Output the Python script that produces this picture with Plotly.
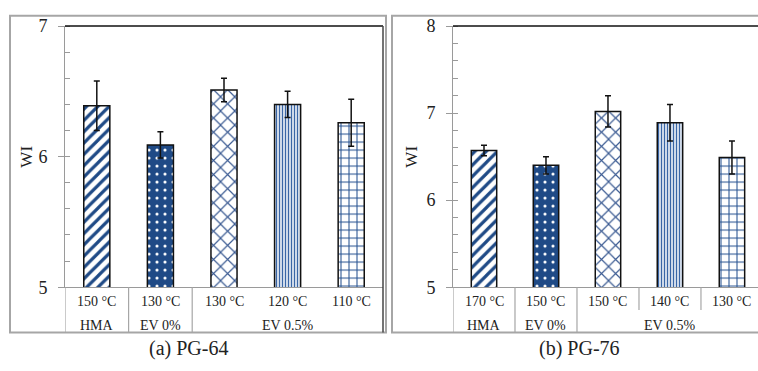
import plotly.graph_objects as go

W, H = 758, 371

# ---- data ----
temps_a = ["150 °C", "130 °C", "130 °C", "120 °C", "110 °C"]
temps_b = ["170 °C", "150 °C", "150 °C", "140 °C", "130 °C"]
groups = ["HMA", "EV 0%", "EV 0.5%"]
group_pos = [0, 1, 3]
wi_a = [6.39, 6.09, 6.51, 6.40, 6.26]
err_a = [0.19, 0.10, 0.09, 0.10, 0.18]
wi_b = [6.57, 6.40, 7.02, 6.89, 6.49]
err_b = [0.06, 0.10, 0.18, 0.21, 0.19]
captions = ["(a) PG-64", "(b) PG-76"]
ytitle = "WI"

NAVY = "#1f4a86"
shapes_pat = ["/", ".", "x", "|", "+"]
fg = [NAVY, "white", "#3a5a92", "#3a66a6", "#24508f"]
bg = ["white", NAVY, "white", "white", "white"]
psize = [8, 8, 10, 3, 8]
psol = [0.4, 0.12, 0.22, 0.5, 0.24]

FONT = "Liberation Serif, Times New Roman, serif"


def px(x):
    return x / W


def py(y):
    return 1 - y / H


xs = list(range(5))
fig = go.Figure()
for i, (vals, errs, temps) in enumerate([(wi_a, err_a, temps_a), (wi_b, err_b, temps_b)]):
    sfx = "" if i == 0 else "2"
    fig.add_trace(go.Bar(
        x=xs, y=vals, width=0.41,
        xaxis="x" + sfx, yaxis="y" + sfx,
        marker=dict(
            color="white",
            line=dict(color="#111", width=1.5),
            pattern=dict(shape=shapes_pat, fgcolor=fg, bgcolor=bg,
                         size=psize, solidity=psol, fillmode="replace"),
        ),
        error_y=dict(type="data", array=errs, color="#111", thickness=1.5, width=3),
        showlegend=False,
    ))

yax_common = dict(
    showgrid=False, zeroline=False, showline=True, linecolor="#9a9a9a", linewidth=1,
    ticks="outside", ticklen=6, tickcolor="#9a9a9a", dtick=1,
    tickfont=dict(family=FONT, size=18, color="#222"),
    minor=dict(dtick=0.2, ticks="inside", ticklen=5, tickcolor="#9a9a9a"),
    ticklabelstandoff=7,
)
xax_common = dict(
    showgrid=False, zeroline=False, showline=True, linecolor="#9a9a9a", linewidth=1,
    showticklabels=False, ticks="",
)

fig.update_layout(
    width=W, height=H, margin=dict(l=0, r=0, t=0, b=0),
    paper_bgcolor="white", plot_bgcolor="white",
    xaxis=dict(domain=[px(65), px(383)], range=[-0.5, 4.5], anchor="y", **xax_common),
    yaxis=dict(domain=[py(293), py(17)], range=[5, 7], anchor="x", **yax_common),
    xaxis2=dict(domain=[px(453), 1.0], range=[-0.5, 4.42], anchor="y2", **xax_common),
    yaxis2=dict(domain=[py(293), py(17)], range=[5, 8], anchor="x2", **yax_common),
)

shapes = []
gray = "#a6a6a6"
# outer panel frames
shapes.append(dict(type="rect", xref="paper", yref="paper", x0=px(10), x1=px(386), y0=py(341), y1=py(6),
                   line=dict(color=gray, width=2), layer="below"))
shapes.append(dict(type="rect", xref="paper", yref="paper", x0=px(392), x1=px(775), y0=py(341), y1=py(6),
                   line=dict(color=gray, width=2), layer="below"))
# plot area top lines
shapes.append(dict(type="line", xref="paper", yref="paper", x0=px(65), x1=px(383), y0=py(17), y1=py(17),
                   line=dict(color="#111", width=1.5)))
shapes.append(dict(type="line", xref="paper", yref="paper", x0=px(453), x1=1.0, y0=py(17), y1=py(17),
                   line=dict(color="#111", width=1.5)))
# right border of panel a plot area
shapes.append(dict(type="line", xref="paper", yref="paper", x0=px(383), x1=px(383), y0=py(17), y1=py(341),
                   line=dict(color="#444", width=1.5)))
# table lines
for i, sfx in enumerate(["", "2"]):
    xr = "x" + sfx
    for b in [-0.5, 0.5, 1.5]:
        shapes.append(dict(type="line", xref=xr, yref="paper", x0=b, x1=b, y0=py(293), y1=py(341),
                           line=dict(color=gray, width=1.2)))
    if i == 1:
        for b in [2.5, 3.5]:
            shapes.append(dict(type="line", xref=xr, yref="paper", x0=b, x1=b, y0=py(293), y1=py(317),
                               line=dict(color=gray, width=1.2)))

annotations = []
for i, (temps, sfx) in enumerate([(temps_a, ""), (temps_b, "2")]):
    xr = "x" + sfx
    for xv, t in zip(xs, temps):
        annotations.append(dict(x=xv, y=py(308), xref=xr, yref="paper", text=t, showarrow=False,
                                font=dict(family=FONT, size=14, color="#222"),
                                xanchor="center", yanchor="middle"))
    for g, gp in zip(groups, group_pos):
        annotations.append(dict(x=gp, y=py(333), xref=xr, yref="paper", text=g, showarrow=False,
                                font=dict(family=FONT, size=14, color="#222"),
                                xanchor="center", yanchor="middle"))
# y titles
for xt in [27, 412]:
    annotations.append(dict(x=px(xt), y=py(155), xref="paper", yref="paper", text=ytitle, showarrow=False,
                            textangle=-90, font=dict(family=FONT, size=17, color="#222"),
                            xanchor="center", yanchor="middle"))
annotations.append(dict(x=px(188), y=py(358), xref="paper", yref="paper", text=captions[0], showarrow=False,
                        font=dict(family=FONT, size=20, color="#222"), xanchor="center", yanchor="middle"))
annotations.append(dict(x=px(579), y=py(358), xref="paper", yref="paper", text=captions[1], showarrow=False,
                        font=dict(family=FONT, size=20, color="#222"), xanchor="center", yanchor="middle"))

fig.update_layout(shapes=shapes, annotations=annotations)
fig.write_html("out.html")
